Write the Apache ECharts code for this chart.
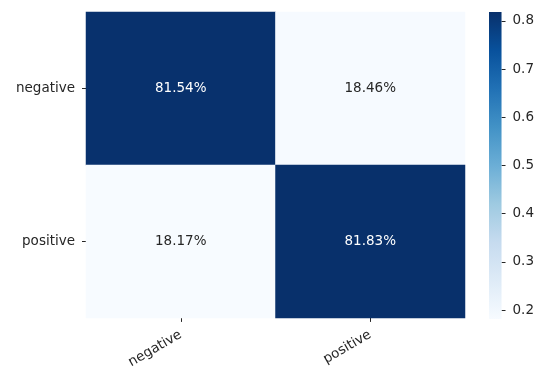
<!DOCTYPE html>
<html>
<head>
<meta charset="utf-8">
<script src="https://cdn.jsdelivr.net/npm/echarts@6/dist/echarts.min.js"></script>
<style>
  html, body { margin: 0; padding: 0; background: #fff; }
  #chart { width: 537px; height: 371px; }
</style>
</head>
<body>
<div id="chart"></div>
<script>
// Confusion matrix (row = true class, column = predicted class), as fractions
const classes = ['negative', 'positive'];
const rowNegative = [0.8154, 0.1846];
const rowPositive = [0.1817, 0.8183];
const colorbarTicks = [0.2, 0.3, 0.4, 0.5, 0.6, 0.7, 0.8];

// matplotlib "Blues" colormap stops
const blues = ['#f7fbff', '#deebf7', '#c6dbef', '#9ecae1', '#6baed6', '#4292c6', '#2171b5', '#08519c', '#08306b'];

const rows = [rowNegative, rowPositive];
const allValues = rows.flat();
const vmin = Math.min(...allValues);
const vmax = Math.max(...allValues);
const mid = (vmin + vmax) / 2;

const cells = [];
rows.forEach((row, r) => {
  row.forEach((v, c) => {
    cells.push({
      value: [c, r, v],
      label: { color: v > mid ? '#ffffff' : '#262626' }
    });
  });
});

// colour bar gradient, top (vmax) to bottom (vmin)
const barGradient = new echarts.graphic.LinearGradient(0, 0, 0, 1,
  blues.slice().reverse().map((c, i) => ({ offset: i / (blues.length - 1), color: c })));

const FONT = 'DejaVu Sans';
const FS = 13.5;
const chart = echarts.init(document.getElementById('chart'), null, { renderer: 'canvas' });

chart.setOption({
  animation: false,
  backgroundColor: '#ffffff',
  textStyle: { fontFamily: FONT },
  grid: [
    { left: 86, right: 72, top: 12, bottom: 52 },
    { left: 489, width: 14, top: 12, height: 307 }
  ],
  xAxis: [
    {
      type: 'category', gridIndex: 0, data: classes,
      splitArea: { show: false },
      axisLine: { show: false },
      axisTick: { show: true, alignWithLabel: true, length: 4, lineStyle: { color: '#262626', width: 1 } },
      axisLabel: { rotate: 30, margin: 16, fontSize: FS, color: '#262626', fontFamily: FONT, interval: 0 }
    },
    {
      type: 'category', gridIndex: 1, data: ['cbar'], show: false,
      axisLine: { show: false }, axisTick: { show: false }, axisLabel: { show: false }
    }
  ],
  yAxis: [
    {
      type: 'category', gridIndex: 0, data: classes, inverse: true,
      splitArea: { show: false },
      axisLine: { show: false },
      axisTick: { show: true, alignWithLabel: true, length: 4, lineStyle: { color: '#262626', width: 1 } },
      axisLabel: { margin: 11, fontSize: FS, color: '#262626', fontFamily: FONT, interval: 0 }
    },
    {
      type: 'value', gridIndex: 1, position: 'right',
      min: vmin, max: vmax,
      splitLine: { show: false },
      axisLine: { show: false },
      axisTick: { show: true, length: 4, customValues: colorbarTicks, lineStyle: { color: '#262626', width: 1 } },
      axisLabel: {
        margin: 11, fontSize: FS, color: '#262626', fontFamily: FONT,
        customValues: colorbarTicks,
        formatter: v => v.toFixed(1)
      }
    }
  ],
  visualMap: {
    type: 'continuous',
    show: false,
    min: vmin, max: vmax,
    seriesIndex: 0,
    inRange: { color: blues }
  },
  series: [
    {
      type: 'heatmap',
      xAxisIndex: 0, yAxisIndex: 0,
      data: cells,
      itemStyle: { borderWidth: 0 },
      label: {
        show: true, fontSize: FS, fontFamily: FONT,
        formatter: p => (p.value[2] * 100).toFixed(2) + '%'
      },
      emphasis: { disabled: true }
    },
    // colour bar: invisible base up to vmin, gradient segment from vmin to vmax
    {
      type: 'bar', xAxisIndex: 1, yAxisIndex: 1, stack: 'cbar',
      barWidth: '100%', data: [vmin],
      itemStyle: { color: 'rgba(0,0,0,0)' },
      silent: true
    },
    {
      type: 'bar', xAxisIndex: 1, yAxisIndex: 1, stack: 'cbar',
      barWidth: '100%', data: [vmax - vmin],
      itemStyle: { color: barGradient, borderWidth: 0 },
      silent: true
    }
  ]
});
</script>
</body>
</html>
